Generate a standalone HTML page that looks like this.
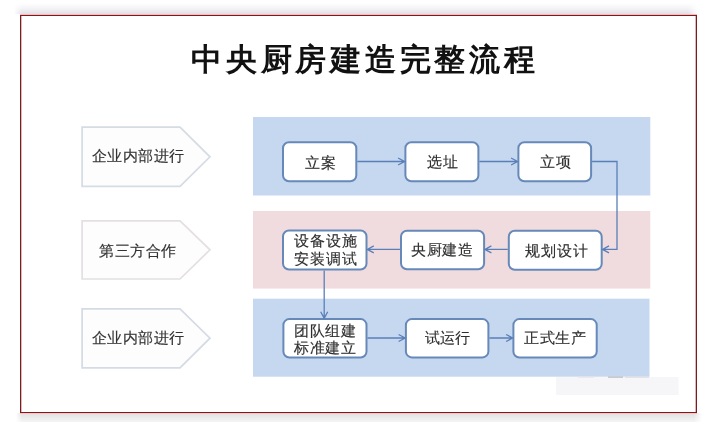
<!DOCTYPE html>
<html><head><meta charset="utf-8">
<style>
html,body{margin:0;padding:0;width:725px;height:422px;overflow:hidden;background:#fff;font-family:"Liberation Sans",sans-serif;}
.abs{position:absolute;white-space:nowrap;}
.title,.lbl,.bt{will-change:transform;}
#shtop{left:14px;top:0;width:684px;height:14px;-webkit-mask-image:linear-gradient(to right,transparent 0,#000 8px,#000 calc(100% - 10px),transparent 100%);background:linear-gradient(to bottom,rgba(255,255,255,0) 0%,rgba(255,255,255,0) 20%,rgba(246,245,248,1) 55%,rgba(226,224,230,1) 100%);}
#shbot{left:16px;top:413px;width:686px;height:9px;-webkit-mask-image:linear-gradient(to right,transparent 0,#000 6px,#000 calc(100% - 8px),transparent 100%);background:linear-gradient(to top,rgba(245,245,245,1) 0%,rgba(232,232,232,1) 60%,rgba(224,224,224,1) 100%);}
#frame{left:20px;top:15px;width:675px;height:396px;border:1px solid #7e1a1f;box-shadow:0 -1px 0 #f6bcbc,0 1px 0 #f6c4c4,inset 1px 0 0 rgba(126,26,31,0.3),inset -1px 0 0 rgba(126,26,31,0.3);background:#fff;}
.title{font-weight:bold;color:#111;}
.lbl{color:#333;-webkit-text-stroke:0.15px #333;}
.bt{color:#2e2e2e;-webkit-text-stroke:0.15px #2e2e2e;}
</style></head><body>
<div id="shtop" class="abs"></div>
<div id="shbot" class="abs"></div>
<div id="frame" class="abs"></div>
<svg class="abs" style="left:0;top:0" width="725" height="422" viewBox="0 0 725 422">
<rect x="253" y="117" width="397.3" height="78.5" fill="#c6d8ef"/>
<rect x="253" y="211" width="397.3" height="77.6" fill="#f0dcdf"/>
<rect x="253" y="298.7" width="396.5" height="78" fill="#c6d8ef"/>
<rect x="556" y="377" width="122.5" height="18" fill="#f6f6f8"/>
<rect x="578" y="376.5" width="16" height="1.3" fill="#e4e6ea"/><rect x="608" y="376.3" width="15" height="1.6" fill="#c3c6cc"/><rect x="625" y="376.5" width="24" height="1.3" fill="#dcdee3"/>
<polygon points="82.1,127.2 180,127.2 210,156.8 180,186.3 82.1,186.3" fill="#fdfdfe" stroke="#d5dce4" stroke-width="1.7"/>
<polygon points="82.1,220.9 180,220.9 210,249.8 180,279 82.1,279" fill="#fefdfd" stroke="#e4dfe2" stroke-width="1.7"/>
<polygon points="82.1,308.9 180,308.9 210,338.2 180,367.8 82.1,367.8" fill="#fdfdfe" stroke="#d5dae4" stroke-width="1.7"/>
<g fill="#fff" stroke="#6689b9" stroke-width="2">
<rect x="283.0" y="142.2" width="73.3" height="39.1" rx="6"/>
<rect x="405.4" y="142.2" width="73.0" height="39.0" rx="6"/>
<rect x="518.4" y="142.2" width="72.7" height="39.0" rx="6"/>
<rect x="283.0" y="230.5" width="83.5" height="39.0" rx="6"/>
<rect x="401.0" y="230.7" width="83.1" height="38.6" rx="6"/>
<rect x="508.8" y="230.7" width="92.9" height="39.0" rx="6"/>
<rect x="283.4" y="319.1" width="83.1" height="38.4" rx="6"/>
<rect x="405.9" y="319.1" width="82.5" height="38.3" rx="6"/>
<rect x="513.4" y="319.1" width="83.3" height="38.4" rx="6"/>
</g>
<g fill="none" stroke="#5a7fb8" stroke-width="1.3">
<path d="M357.3 161.5 H404.59999999999997 M398.09999999999997 158.0 L404.59999999999997 161.5 L398.09999999999997 165.0"/>
<path d="M479.4 161.5 H517.6 M511.1 158.0 L517.6 161.5 L511.1 165.0"/>
<path d="M592.1 161.5 H617.0 V249.4 H602.5 M609.0 245.9 L602.5 249.4 L609.0 252.9"/>
<path d="M507.8 249.4 H484.90000000000003 M491.40000000000003 245.9 L484.90000000000003 249.4 L491.40000000000003 252.9"/>
<path d="M400.0 249.4 H367.3 M373.8 245.9 L367.3 249.4 L373.8 252.9"/>
<path d="M324.2 270.5 V318.3 M320.7 311.8 L324.2 318.3 L327.7 311.8"/>
<path d="M367.5 338.0 H405.09999999999997 M398.59999999999997 334.5 L405.09999999999997 338.0 L398.59999999999997 341.5"/>
<path d="M489.4 338.0 H512.6 M506.1 334.5 L512.6 338.0 L506.1 341.5"/>
</g>
</svg>

<div id="title" class="abs title" style="left:190.80px;top:38.20px;font-size:31px;letter-spacing:3.75px;line-height:44px;">中央厨房建造完整流程</div>
<div id="l1" class="abs lbl" style="left:91.70px;top:146.10px;font-size:15px;letter-spacing:0.4px;line-height:20px;">企业内部进行</div>
<div id="l2" class="abs lbl" style="left:99.30px;top:240.70px;font-size:15px;letter-spacing:0.6px;line-height:20px;">第三方合作</div>
<div id="l3" class="abs lbl" style="left:91.70px;top:328.10px;font-size:15px;letter-spacing:0.4px;line-height:20px;">企业内部进行</div>
<div id="b1" class="abs bt" style="left:304.50px;top:152.60px;font-size:15px;letter-spacing:1px;line-height:20px;">立案</div>
<div id="b2" class="abs bt" style="left:426.90px;top:152.00px;font-size:15px;letter-spacing:1px;line-height:20px;">选址</div>
<div id="b3" class="abs bt" style="left:539.90px;top:151.70px;font-size:15px;letter-spacing:1px;line-height:20px;">立项</div>
<div id="b4" class="abs bt" style="left:293.50px;top:232.20px;font-size:15px;letter-spacing:1px;line-height:17.6px;">设备设施<br>安装调试</div>
<div id="b5" class="abs bt" style="left:411.00px;top:240.30px;font-size:15px;letter-spacing:0.6px;line-height:20px;">央厨建造</div>
<div id="b6" class="abs bt" style="left:524.80px;top:240.50px;font-size:15px;letter-spacing:1px;line-height:20px;">规划设计</div>
<div id="b7" class="abs bt" style="left:293.80px;top:321.80px;font-size:15px;letter-spacing:0.6px;line-height:17.4px;">团队组建<br>标准建立</div>
<div id="b8" class="abs bt" style="left:424.80px;top:328.20px;font-size:15px;letter-spacing:0px;line-height:20px;">试运行</div>
<div id="b9" class="abs bt" style="left:524.00px;top:328.40px;font-size:15px;letter-spacing:0.6px;line-height:20px;">正式生产</div>

</body></html>
